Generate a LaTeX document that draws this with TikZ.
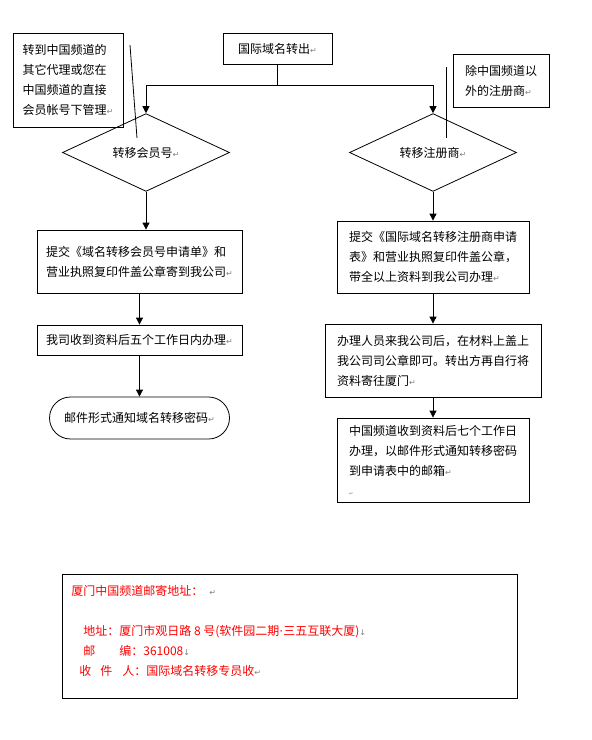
\documentclass[tikz,border=0pt]{standalone}
\usepackage{fontspec}
\setmainfont{Noto Sans CJK SC}
\newfontfamily\symfont{DejaVu Sans}
\usetikzlibrary{shapes.geometric,shapes.misc,arrows.meta}
\newcommand\retmark{{\symfont\color{gray}\fontsize{8}{8}\selectfont ↵}}
\newcommand\brkmark{{\symfont\color{gray}\fontsize{8}{8}\selectfont ↓}}

\begin{document}
\begin{tikzpicture}[x=1pt, y=-1pt, line width=0.8pt,
    font=\fontsize{12}{20}\selectfont,
    box/.style={draw, rectangle, align=left, inner sep=0pt},
    test/.style={draw, diamond, minimum width=167pt, minimum height=51pt, inner sep=0pt},
    addrline/.style={anchor=base west, inner sep=0pt, text=red},
    arr/.style={-{Triangle[length=7pt,width=7pt]}}]
            \useasboundingbox (0,0) rectangle (592,740);
            \node[box, minimum width=109pt, minimum height=31pt] (start) at (277.5,48.5) {国际域名转出\retmark};
            \node[box, minimum width=110pt, minimum height=94pt] (n1) at (68,80) {转到中国频道的\\其它代理或您在\\中国频道的直接\\会员帐号下管理\retmark};
            \node[box, minimum width=96pt, minimum height=53pt] (n2) at (501,80.5) {除中国频道以\\外的注册商\retmark};
            \node[test] (d1) at (146,152.5) {转移会员号\retmark};
            \node[test] (d2) at (433,152.5) {转移注册商\retmark};
            \node[box, minimum width=205pt, minimum height=63pt] (a1) at (139.5,261.5) {提交《域名转移会员号申请单》和\\营业执照复印件盖公章寄到我公司\retmark};
            \node[box, minimum width=205pt, minimum height=30pt] (a2) at (139.5,340) {我司收到资料后五个工作日内办理\retmark};
            \node[draw, rounded rectangle, minimum width=180pt, minimum height=42pt, inner sep=0pt] (a3) at (139.5,418) {邮件形式通知域名转移密码\retmark};
            \node[box, minimum width=192pt, minimum height=72pt] (b1) at (433,257) {提交《国际域名转移注册商申请\\表》和营业执照复印件盖公章，\\带全以上资料到我公司办理\retmark};
            \node[box, minimum width=216pt, minimum height=73pt] (b2) at (433,360.5) {办理人员来我公司后，在材料上盖上\\我公司司公章即可。转出方再自行将\\资料寄往厦门\retmark};
            \node[box, minimum width=192pt, minimum height=84pt] (b3) at (433,460) {中国频道收到资料后七个工作日\\办理，以邮件形式通知转移密码\\到申请表中的邮箱\retmark\\{\symfont\color{gray}\fontsize{5}{5}\selectfont ↵}};
            % mailing address
            \node[box, minimum width=455pt, minimum height=124pt] (addr) at (289.5,636) {};
            \node[addrline] (t1) at (71,595) {厦门中国频道邮寄地址：\hspace{6pt}\retmark};
            \node[addrline] (t2) at (83,635) {地址：厦门市观日路 8 号(软件园二期{\symfont ·}三五互联大厦)\brkmark};
            \node[addrline] (t3) at (83,655) {邮\hspace{24pt}编：361008\brkmark};
            \node[addrline] (t4) at (79,675) {收\hspace{9pt}件\hspace{10pt}人：国际域名转移专员收\retmark};
            % connectors
            \coordinate (split) at (277.5,85);
            \draw (start) -- (split);
            \draw[arr] (split) -| (d1.north);
            \draw[arr] (split) -| (d2.north);
            \draw[arr] (d1.south) -- (d1.south |- a1.north);
            \draw[arr] (a1) -- (a2);
            \draw[arr] (a2) -- (a3);
            \draw[arr] (d2) -- (b1);
            \draw[arr] (b1) -- (b2);
            \draw[arr] (b2) -- (b3);
            % callout lines
            \coordinate (c1) at (130,45);
            \coordinate (c2) at (137,138);
            \coordinate (c3) at (446,67);
            \coordinate (c4) at (446,138);
            \draw (c1) -- (c2);
            \draw (c3) -- (c4);
        \end{tikzpicture}
\end{document}
